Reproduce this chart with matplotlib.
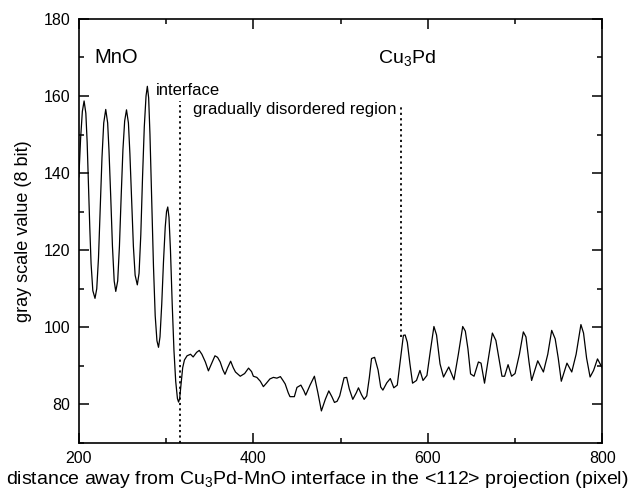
import matplotlib
matplotlib.use("Agg")
import matplotlib.pyplot as plt
from matplotlib.ticker import MultipleLocator

plt.rcParams['font.family'] = ['Liberation Sans', 'DejaVu Sans']

# distance (pixel) and gray scale value (8 bit)
distance = [
    200, 202, 204, 206, 208, 209.5, 211, 212.5, 214, 216, 218.5, 220.5, 222.5, 224.5, 226.5,
    228.5, 230.8, 233, 234.5, 236.5, 238.5, 240.5, 242.3, 244.5, 246.5, 248.5, 250.5, 252.5,
    254.6, 256.8, 258.5, 260.5, 262.5, 264.5, 267, 269, 271, 273, 275, 277, 278.5, 280,
    281.5, 283.5, 285.5, 287.5, 289.5, 291.3, 293, 295, 297, 299, 300.5, 301.9, 303.3, 305,
    307, 309, 311, 313, 314.3, 315.5, 317, 319, 321, 324,
    328, 331, 335, 338, 341, 345, 348.5, 352, 356, 359, 362,
    365, 367.5, 370.5, 374, 377, 379.5, 385, 390, 394.5, 398, 400, 404, 408, 411.5, 415,
    419, 423, 427, 431, 434, 436.5, 440, 442, 447, 450, 454.5, 458, 460, 465, 470, 474,
    478, 482.5, 486.5, 490, 493, 496, 499, 502, 504, 507, 510, 514, 518, 520.5, 524,
    527, 530, 533, 535.5, 539, 543, 546, 548.5, 553, 557, 561, 565, 568.5, 572, 574,
    576.5, 579.5, 582.5, 587, 591, 594.5, 599, 603, 607, 610, 614, 618, 624, 630, 635,
    640, 643, 646, 649, 653, 658, 661, 665, 669.5, 674, 678, 681.5, 685, 688, 692, 696,
    700, 705, 709.5, 712.5, 716, 719, 726, 732.5, 737.5, 742, 746, 749.5, 753, 759.5,
    765, 770, 775.5, 778.5, 782, 786, 790, 794.5, 797.5, 800,
]
gray_value = [
    139, 149, 156, 158.7, 155.5, 148, 137, 126, 116.5, 109.5, 107.5, 110, 118, 131, 144,
    153, 156.5, 153, 146, 134, 121, 112, 109.3, 112, 121, 134, 146, 153.5,
    156.4, 153, 145, 133, 121, 113.5, 111, 114, 124, 139, 152, 160, 162.5, 159.5,
    150, 133, 116, 103, 96.5, 94.8, 97.5, 106, 117, 126, 130, 131.2, 128.5, 120,
    106, 94, 86, 81.5, 80.6, 81.5, 85, 89.5, 91.5, 92.6,
    93, 92.3, 93.5, 94, 93, 91, 88.7, 90.5, 92.6, 92.2, 91,
    89, 87.8, 89.5, 91.2, 89.5, 88.4, 87.3, 88, 89.4, 88.5, 87.3, 87, 86, 84.6, 85.5,
    86.6, 87, 86.8, 87.2, 86.2, 85.3, 83, 82, 82, 84.4, 85, 83.5, 82.4, 85, 87.3, 83,
    78.3, 81.3, 83.5, 82, 80.5, 80.8, 82.2, 85, 86.9, 87, 84, 81.3, 83, 84.3, 82.5,
    81.3, 82.2, 87, 91.9, 92.2, 88.9, 84.5, 83.7, 85.6, 86.7, 84.3, 85, 91.5, 97.9, 98,
    96.1, 90.5, 85.5, 86.2, 88.8, 86.2, 87.5, 94, 100.2, 98, 90.5, 87.1, 89.7, 86.4, 93,
    100.2, 99, 94.4, 87.9, 87.3, 91, 90.7, 85.5, 92, 98.5, 96.6, 92, 87.3, 87.3, 90.3, 87.3,
    88, 93, 98.8, 97.5, 91, 86.2, 91.3, 88.4, 93, 99.2, 97, 92, 86, 90.7,
    88.4, 93, 100.7, 98.5, 92, 87.1, 88.8, 91.8, 90.5, 89.5,
]

interface_x = 316
interface_y = (70, 158.7)
cu3pd_x = 569.5
cu3pd_y = (97.5, 157.3)

fig = plt.figure(figsize=(6.36, 4.96), dpi=100)
ax = fig.add_axes([0.124, 0.107, 0.823, 0.855])

ax.plot(distance, gray_value, color='black', lw=0.9)
ax.plot([interface_x, interface_x], interface_y, color='black', lw=1.3, ls=(0, (1.2, 1.8)))
ax.plot([cu3pd_x, cu3pd_x], cu3pd_y, color='black', lw=1.3, ls=(0, (1.2, 1.8)))

ax.text(218, 170, 'MnO', fontsize=14.5, va='center', ha='left')
ax.text(288, 161.3, 'interface', fontsize=12, va='center', ha='left')
ax.text(331, 156.6, 'gradually disordered region', fontsize=12, va='center', ha='left')
ax.text(542.5, 169.5, r'Cu$_{\mathregular{3}}$Pd', fontsize=14, va='center', ha='left')

ax.set_xlim(200, 800)
ax.set_ylim(70, 180)
ax.xaxis.set_major_locator(MultipleLocator(200))
ax.xaxis.set_minor_locator(MultipleLocator(100))
ax.yaxis.set_major_locator(MultipleLocator(20))
ax.yaxis.set_minor_locator(MultipleLocator(10))
ax.tick_params(which='both', direction='in', top=True, right=True, width=1.1)
ax.tick_params(which='major', length=7, labelsize=11.5, pad=6)
ax.tick_params(which='minor', length=3.5)
for s in ax.spines.values():
    s.set_linewidth(1.2)

ax.set_ylabel('gray scale value (8 bit)', fontsize=13)
ax.yaxis.set_label_coords(-0.089, 0.5)
ax.set_xlabel(r'distance away from Cu$_{\mathregular{3}}$Pd-MnO interface in the <112> projection (pixel)',
              fontsize=14)
ax.xaxis.set_label_coords(0.456, -0.062)

fig.savefig('out.png', dpi=100)
